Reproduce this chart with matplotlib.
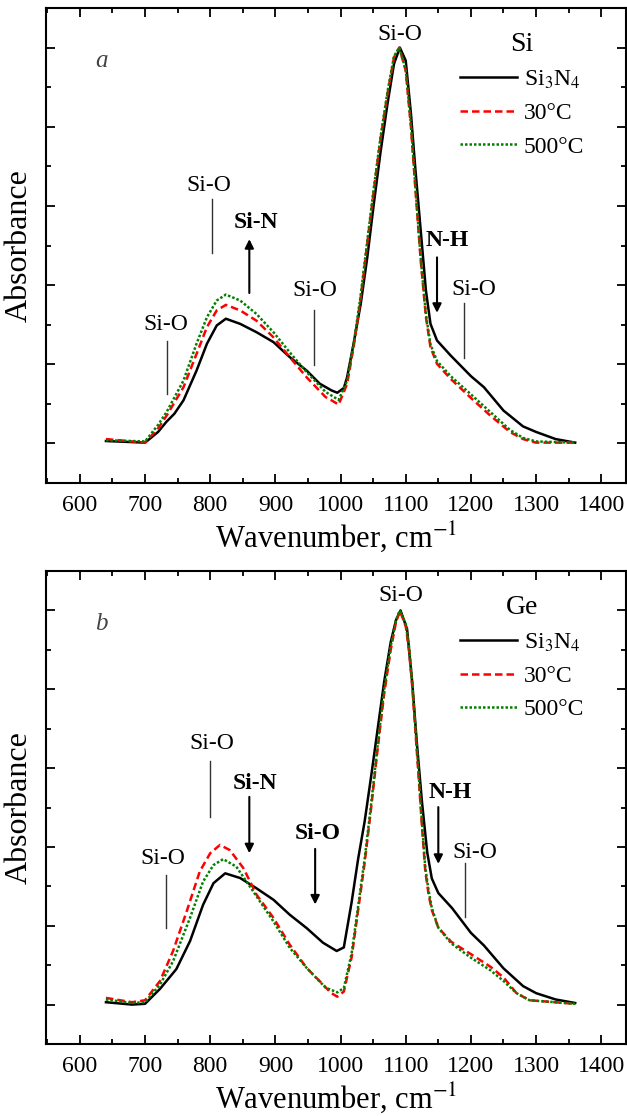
import matplotlib
matplotlib.use('Agg')
import matplotlib.pyplot as plt
from matplotlib.ticker import MultipleLocator, NullFormatter

plt.rcParams['font.family'] = ['Liberation Serif', 'DejaVu Serif']
plt.rcParams['mathtext.fontset'] = 'stix'

# ---- panel a: Si substrate
si_nit_x = [640, 700, 720, 733, 745, 759, 779, 795, 810, 824, 846, 871, 897, 922, 948,
            968, 986, 995, 1005, 1010, 1020, 1031, 1041, 1051, 1061, 1072, 1082, 1091,
            1100, 1108, 1115, 1123, 1131, 1138, 1148, 1169, 1200, 1220, 1250, 1280, 1300,
            1330, 1360]
si_nit_y = [0.006, 0.002, 0.029, 0.055, 0.075, 0.109, 0.184, 0.252, 0.298, 0.315, 0.302,
            0.281, 0.256, 0.218, 0.184, 0.151, 0.134, 0.128, 0.140, 0.167, 0.252, 0.353,
            0.470, 0.605, 0.732, 0.858, 0.959, 1.000, 0.967, 0.833, 0.689, 0.538, 0.386,
            0.302, 0.260, 0.222, 0.170, 0.142, 0.083, 0.043, 0.029, 0.011, 0.002]

si_30_x = [640, 700, 720, 733, 759, 779, 795, 810, 824, 846, 871, 897, 922, 948, 977, 985,
           997, 1010, 1020, 1031, 1041, 1051, 1061, 1072, 1082, 1090, 1100, 1108, 1115,
           1123, 1131, 1138, 1148, 1169, 1200, 1230, 1260, 1280, 1300, 1360]
si_30_y = [0.011, 0.002, 0.038, 0.070, 0.142, 0.226, 0.294, 0.336, 0.350, 0.336, 0.310,
           0.268, 0.218, 0.167, 0.117, 0.110, 0.098, 0.150, 0.243, 0.369, 0.505, 0.639,
           0.765, 0.883, 0.975, 1.000, 0.942, 0.800, 0.639, 0.462, 0.319, 0.243, 0.201,
           0.163, 0.115, 0.070, 0.029, 0.011, 0.002, 0.002]

si_500_x = [640, 700, 720, 733, 759, 779, 795, 810, 824, 846, 871, 897, 922, 948, 977,
            997, 1010, 1020, 1031, 1041, 1051, 1061, 1072, 1082, 1090, 1100, 1108, 1115,
            1123, 1131, 1138, 1148, 1169, 1200, 1230, 1260, 1280, 1300, 1360]
si_500_y = [0.008, 0.005, 0.047, 0.079, 0.159, 0.252, 0.319, 0.361, 0.376, 0.361, 0.327,
            0.281, 0.230, 0.180, 0.130, 0.110, 0.158, 0.250, 0.376, 0.512, 0.645, 0.770,
            0.888, 0.978, 1.000, 0.944, 0.805, 0.645, 0.468, 0.326, 0.250, 0.208, 0.170,
            0.124, 0.079, 0.034, 0.014, 0.005, 0.002]

# ---- panel b: Ge substrate
ge_nit_x = [640, 680, 700, 723, 748, 769, 789, 805, 823, 846, 871, 897, 922, 948, 973, 994,
            1005, 1017, 1027, 1037, 1047, 1057, 1067, 1077, 1085, 1092, 1102, 1110, 1117,
            1125, 1133, 1140, 1150, 1171, 1200, 1220, 1250, 1280, 1300, 1330, 1360]
ge_nit_y = [0.006, 0.000, 0.002, 0.040, 0.090, 0.161, 0.253, 0.308, 0.333, 0.321, 0.295,
            0.266, 0.228, 0.194, 0.157, 0.136, 0.145, 0.260, 0.370, 0.465, 0.580, 0.700,
            0.820, 0.920, 0.975, 1.000, 0.953, 0.817, 0.665, 0.513, 0.386, 0.320, 0.283,
            0.245, 0.182, 0.150, 0.092, 0.047, 0.029, 0.013, 0.004]

ge_30_x = [640, 680, 700, 723, 743, 764, 784, 800, 815, 830, 851, 871, 897, 922, 948, 973,
           985, 995, 1005, 1017, 1027, 1037, 1047, 1057, 1067, 1077, 1085, 1091, 1100, 1105,
           1110, 1115, 1120, 1125, 1130, 1135, 1140, 1150, 1170, 1200, 1230, 1250, 1270,
           1290, 1360]
ge_30_y = [0.017, 0.006, 0.011, 0.060, 0.136, 0.237, 0.338, 0.384, 0.405, 0.392, 0.346,
           0.279, 0.220, 0.152, 0.093, 0.051, 0.030, 0.020, 0.033, 0.120, 0.240, 0.360,
           0.500, 0.650, 0.790, 0.900, 0.970, 1.000, 0.960, 0.900, 0.807, 0.690, 0.573,
           0.450, 0.339, 0.280, 0.240, 0.195, 0.159, 0.128, 0.096, 0.069, 0.029, 0.011, 0.002]

ge_500_x = [640, 680, 700, 723, 743, 769, 789, 805, 820, 840, 866, 897, 922, 948, 977, 995,
            1005, 1017, 1027, 1037, 1047, 1057, 1067, 1077, 1085, 1091, 1100, 1105, 1110,
            1115, 1120, 1125, 1130, 1135, 1140, 1150, 1170, 1200, 1230, 1250, 1270, 1290, 1360]
ge_500_y = [0.013, 0.004, 0.006, 0.051, 0.110, 0.220, 0.312, 0.354, 0.369, 0.350, 0.287,
            0.211, 0.144, 0.093, 0.043, 0.031, 0.042, 0.130, 0.250, 0.370, 0.510, 0.660,
            0.800, 0.910, 0.975, 1.000, 0.965, 0.910, 0.816, 0.700, 0.582, 0.460, 0.348,
            0.290, 0.245, 0.195, 0.155, 0.119, 0.087, 0.060, 0.029, 0.011, 0.002]

series_labels = [r'Si$_3$N$_4$', '30°C', '500°C']

# band marks: (text, text x, text y, mark x, y from, y to, bold, arrow)
si_marks = [('Si-O', 732, 0.30, 734, 0.26, 0.125, False, False),
            ('Si-O', 798, 0.652, 802, 0.617, 0.481, False, False),
            ('Si-N', 871, 0.557, 860, 0.38, 0.516, True, True),
            ('Si-O', 961, 0.386, 960, 0.337, 0.198, False, False),
            ('Si-O', 1091, 1.033, None, None, None, False, False),
            ('N-H', 1163, 0.513, 1148, 0.47, 0.33, True, True),
            ('Si-O', 1205, 0.39, 1189, 0.356, 0.217, False, False)]
ge_marks = [('Si-O', 728, 0.371, 732, 0.33, 0.195, False, False),
            ('Si-O', 803, 0.663, 800, 0.617, 0.477, False, False),
            ('Si-N', 868, 0.56, 860, 0.527, 0.384, True, True),
            ('Si-O', 965, 0.434, 961, 0.395, 0.254, True, True),
            ('Si-O', 1093, 1.037, None, None, None, False, False),
            ('N-H', 1169, 0.537, 1150, 0.501, 0.357, True, True),
            ('Si-O', 1206, 0.386, 1191, 0.359, 0.222, False, False)]

fs = 17

fig = plt.figure(figsize=(6.27, 11.16), dpi=100)
ax_a = fig.add_axes([46/627, 1-483/1116, 580/627, 475/1116])
ax_b = fig.add_axes([46/627, 1-1044/1116, 580/627, 473/1116])


def draw_panel(ax, curves, marks, letter, title):
    styles = [dict(color='black', ls='-'),
              dict(color='#ff0000', ls=(0, (3, 1.6))),
              dict(color='#008000', ls=(0, (1, 0.8)))]
    for (xs, ys), st, lab in zip(curves, styles, series_labels):
        ax.plot(xs, ys, lw=1.8, label=lab, **st)

    for txt, tx, ty, mx, y0, y1, bold, arrow in marks:
        ax.text(tx, ty, txt, ha='center', va='center', fontsize=fs,
                fontweight='bold' if bold else 'normal')
        if mx is None:
            continue
        if arrow:
            ax.annotate('', xy=(mx, y1), xytext=(mx, y0),
                        arrowprops=dict(arrowstyle='-|>', color='black', lw=1.5,
                                        mutation_scale=13, shrinkA=0, shrinkB=0))
        else:
            ax.plot([mx, mx], [y0, y1], color='#333333', lw=1.0)

    ax.text(633, 0.966, letter, ha='center', va='center', fontsize=18,
            style='italic', color='#444444')

    ax.set_xlim(548, 1438)
    ax.set_ylim(-0.1, 1.1)
    ax.xaxis.set_major_locator(MultipleLocator(100))
    ax.xaxis.set_minor_locator(MultipleLocator(50))
    ax.yaxis.set_major_locator(MultipleLocator(0.2))
    ax.yaxis.set_minor_locator(MultipleLocator(0.1))
    ax.yaxis.set_major_formatter(NullFormatter())
    ax.tick_params(which='both', direction='in', top=True, right=True, width=1.3,
                   labelsize=fs, pad=8.5)
    ax.tick_params(which='major', length=6.5)
    ax.tick_params(which='minor', length=3.5)
    for s in ax.spines.values():
        s.set_linewidth(1.5)
    ax.set_xlabel(r'Wavenumber, cm$^{-1}$', fontsize=22, labelpad=3)
    ax.set_ylabel('Absorbance', fontsize=23, labelpad=0)

    ax.legend(loc='upper left', bbox_to_anchor=(0.714, 0.95), frameon=False,
              fontsize=fs, title=title, title_fontsize=20, handlelength=2.4,
              handletextpad=0.3, labelspacing=0.5, borderpad=0, borderaxespad=0)


draw_panel(ax_a, [(si_nit_x, si_nit_y), (si_30_x, si_30_y), (si_500_x, si_500_y)],
           si_marks, 'a', 'Si')
draw_panel(ax_b, [(ge_nit_x, ge_nit_y), (ge_30_x, ge_30_y), (ge_500_x, ge_500_y)],
           ge_marks, 'b', 'Ge')

fig.savefig('out.png', dpi=100)
